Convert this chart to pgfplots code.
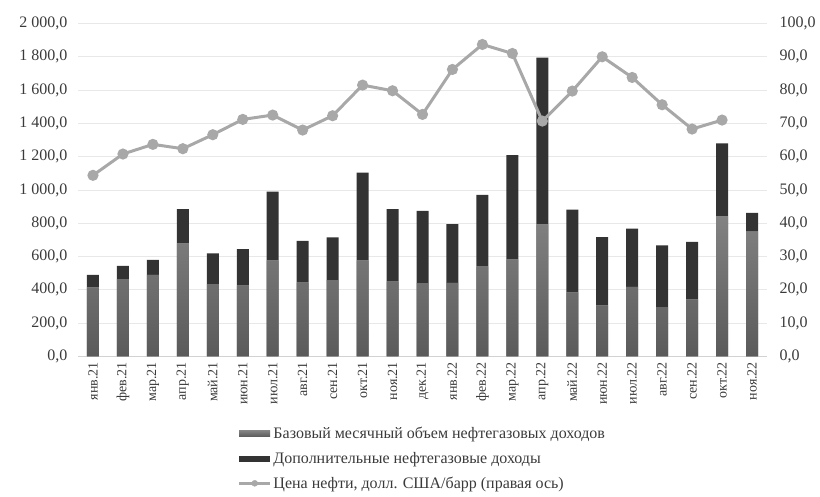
\documentclass[border=0pt]{standalone}
\usepackage{fontspec}
\setmainfont{Liberation Serif}
\usepackage{pgfplots}
\pgfplotsset{compat=1.18}
\definecolor{basebar}{HTML}{6E6E6E}
\definecolor{basebartop}{HTML}{828282}
\definecolor{basebarbot}{HTML}{5A5A5A}
\definecolor{extrabar}{HTML}{333333}
\definecolor{linegray}{HTML}{A8A8A8}
\definecolor{gridgray}{HTML}{E8E8E8}
\definecolor{txt}{HTML}{3A3A3A}
\begin{document}
\begin{tikzpicture}
\pgfplotsset{
  common/.style={
    scale only axis, width=689pt, height=333pt,
    xmin=-0.5, xmax=22.5,
    /pgf/number format/assume math mode=true,
    tick label style={font=\fontsize{16}{18}\selectfont, text=txt},
    major tick length=0pt,
  }
}
\begin{axis}[common, name=ax,
  ybar stacked, bar width=12pt,
  ymin=0, ymax=2000, ytick={0,200,...,2000},
  ymajorgrids, grid style={gridgray, line width=0.8pt},
  axis x line*=bottom, axis y line*=left,
  x axis line style={draw=gray!35, line width=0.8pt, -},
  y axis line style={draw=none},
  /pgf/number format/fixed, /pgf/number format/fixed zerofill, /pgf/number format/precision=1, /pgf/number format/use comma, /pgf/number format/1000 sep={\ },
  yticklabel style={xshift=-7pt},
  xtick={0,...,22},
  xticklabels={янв.21,фев.21,мар.21,апр.21,май.21,июн.21,июл.21,авг.21,сен.21,окт.21,ноя.21,дек.21,янв.22,фев.22,мар.22,апр.22,май.22,июн.22,июл.22,авг.22,сен.22,окт.22,ноя.22},
  x tick label style={rotate=90, anchor=east, font=\fontsize{14}{16}\selectfont, xshift=-2pt},
  legend style={at={(0.5,-0.2)}, anchor=north, draw=none, fill=none,
    font=\fontsize{16}{18}\selectfont, text=txt, legend cell align=left,
    row sep=8pt, /tikz/every even column/.append style={column sep=2pt}},
]
\addplot[fill=basebar, draw=none, top color=basebartop, bottom color=basebarbot,
  legend image code/.code={\fill[basebar] (0pt,-3pt) rectangle (31pt,3pt);}]
  coordinates {(0,415)(1,465)(2,490)(3,680)(4,435)(5,425)(6,578)(7,443)(8,458)(9,578)(10,450)(11,440)(12,442)(13,540)(14,583)(15,793)(16,385)(17,307)(18,418)(19,296)(20,343)(21,842)(22,750)};
\addlegendentry{Базовый месячный объем нефтегазовых доходов}
\addplot[fill=extrabar, draw=none,
  legend image code/.code={\fill[extrabar] (0pt,-3pt) rectangle (31pt,3pt);}]
  coordinates {(0,75)(1,80)(2,90)(3,205)(4,185)(5,220)(6,412)(7,252)(8,257)(9,527)(10,435)(11,435)(12,353)(13,430)(14,627)(15,1002)(16,497)(17,410)(18,350)(19,372)(20,345)(21,438)(22,112)};
\addlegendentry{Дополнительные нефтегазовые доходы}
\addlegendimage{legend image code/.code={\draw[linegray, line width=2.5pt] (0pt,0pt) -- (31pt,0pt); \fill[linegray] (15.5pt,0pt) circle (3pt);}}
\addlegendentry{Цена нефти, долл. США/барр (правая ось)}
\end{axis}
\begin{axis}[common,
  ymin=0, ymax=100, ytick={0,10,...,100},
  axis y line*=right, axis x line=none,
  y axis line style={draw=none},
  /pgf/number format/fixed, /pgf/number format/fixed zerofill, /pgf/number format/precision=1, /pgf/number format/use comma,
  yticklabel style={xshift=9pt},
]
\addplot[linegray, line width=3pt, mark=*, mark size=4pt, mark options={fill=linegray, draw=linegray}]
  coordinates {(0,54.4)(1,60.8)(2,63.7)(3,62.4)(4,66.6)(5,71.2)(6,72.5)(7,68.0)(8,72.3)(9,81.5)(10,79.8)(11,72.7)(12,86.2)(13,93.7)(14,91.0)(15,70.7)(16,79.7)(17,90.0)(18,83.8)(19,75.6)(20,68.3)(21,71.0)};
\end{axis}
\pgfresetboundingbox
\path[use as bounding box] ([xshift=-78pt,yshift=-140.3pt]ax.south west) rectangle ([xshift=53pt,yshift=23.5pt]ax.north east);
\end{tikzpicture}
\end{document}
